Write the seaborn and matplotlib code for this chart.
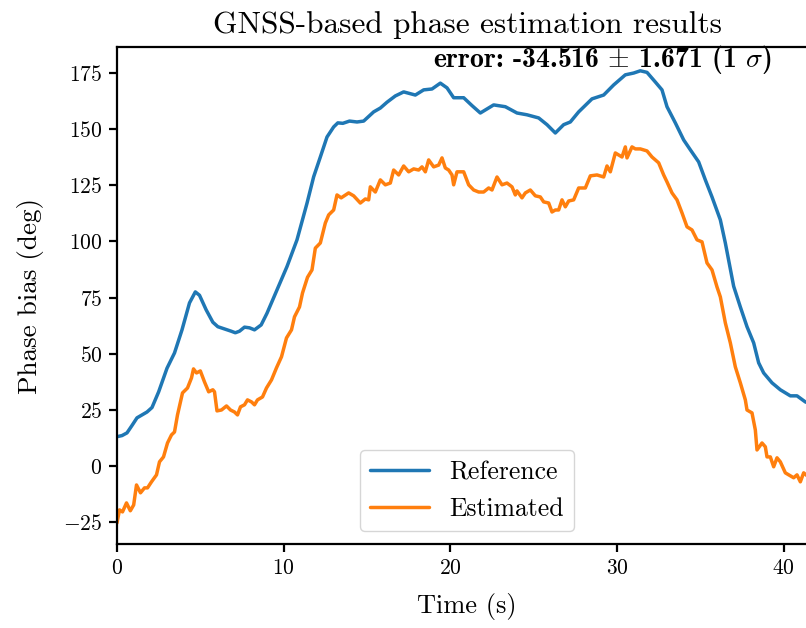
import numpy as np
import pandas as pd
import matplotlib
matplotlib.use("Agg")
import matplotlib.pyplot as plt
import seaborn as sns

# Reference phase bias (deg) over time (s)
ref_time = [0, 0.3, 0.6, 0.9, 1.2, 1.5, 1.8, 2.1, 2.5, 3.0,
            3.45, 3.9, 4.35, 4.7, 4.95, 5.35, 5.75, 6.05, 6.45, 6.85,
            7.1, 7.35, 7.65, 7.95, 8.25, 8.65, 9.0, 9.6, 10.2, 10.8,
            11.4, 11.8, 12.2, 12.6, 13.0, 13.25, 13.55, 13.95, 14.4, 14.8,
            15.4, 15.8, 16.2, 16.7, 17.2, 17.5, 17.9, 18.4, 18.9, 19.4,
            19.8, 20.2, 20.8, 21.3, 21.8, 22.6, 23.3, 24.0, 24.6, 25.3,
            25.8, 26.3, 26.8, 27.2, 27.7, 28.5, 29.2, 29.8, 30.5, 31.0,
            31.4, 31.8, 32.3, 32.7, 33.0, 33.5, 34.0, 34.4, 34.9, 35.3,
            35.7, 36.2, 36.5, 37.0, 37.4, 37.8, 38.2, 38.5, 38.8, 39.3,
            39.8, 40.4, 40.8, 41.3, 41.8]
ref_phase = [13, 13.5, 14.7, 18, 21.4, 22.7, 24, 26, 33, 43.5,
             50.3, 60.6, 72.6, 77.5, 76, 69.5, 64, 62, 61, 60,
             59.3, 60, 61.8, 61.5, 60.6, 62.8, 68, 78.4, 88.8, 100.7,
             117, 128.8, 137.6, 146.5, 151, 152.8, 152.6, 153.6, 153.2, 153.6,
             157.7, 159.4, 162, 164.8, 166.6, 166, 165.2, 167.5, 167.9, 170.5,
             168.4, 164, 164, 160.5, 157.2, 160.8, 160, 157.2, 156.4, 155,
             152, 148.3, 152, 153.2, 157.7, 163.5, 165.2, 169.7, 174.2, 175,
             176, 175.3, 171, 167.5, 160, 152.8, 145.2, 140.8, 135.4, 127.4,
             119.8, 109.6, 99.3, 80, 70.8, 62, 54.8, 45.9, 41.4, 37,
             33.9, 31.2, 31.2, 28.5, 27]

# Estimated phase bias (deg) over time (s)
est_time = [0, 0.15, 0.33, 0.57, 0.8, 1.0, 1.17, 1.41, 1.65, 1.83,
            2.07, 2.37, 2.55, 2.79, 3.03, 3.27, 3.45, 3.63, 3.93, 4.23,
            4.47, 4.59, 4.77, 5.0, 5.25, 5.5, 5.75, 5.85, 6.0, 6.27,
            6.57, 6.81, 7.05, 7.23, 7.41, 7.65, 7.83, 8.07, 8.25, 8.43,
            8.73, 8.97, 9.27, 9.57, 9.87, 10.17, 10.47, 10.65, 10.95, 11.13,
            11.43, 11.7, 11.9, 12.2, 12.5, 12.7, 13.0, 13.2, 13.45, 13.9,
            14.2, 14.6, 14.9, 15.1, 15.2, 15.5, 15.8, 16.1, 16.4, 16.6,
            16.9, 17.2, 17.5, 17.8, 18.1, 18.3, 18.5, 18.7, 19.0, 19.3,
            19.5, 19.7, 19.9, 20.1, 20.2, 20.4, 20.8, 21.1, 21.4, 21.7,
            22.0, 22.3, 22.5, 22.8, 23.1, 23.4, 23.7, 23.9, 24.0, 24.3,
            24.5, 24.8, 25.1, 25.4, 25.6, 25.9, 26.1, 26.3, 26.5, 26.7,
            26.9, 27.1, 27.4, 27.7, 28.1, 28.4, 28.8, 29.2, 29.4, 29.6,
            29.9, 30.1, 30.3, 30.5, 30.6, 30.9, 31.1, 31.4, 31.8, 32.1,
            32.5, 32.8, 33.0, 33.3, 33.6, 33.9, 34.2, 34.5, 34.8, 35.1,
            35.4, 35.7, 36.0, 36.2, 36.5, 36.8, 37.1, 37.4, 37.7, 37.8,
            38.1, 38.3, 38.4, 38.7, 38.9, 39.0, 39.2, 39.4, 39.6, 39.8,
            40.1, 40.3, 40.6, 40.8, 41.0, 41.2, 41.5, 41.8]
est_phase = [-25.4, -19.6, -20.5, -16.5, -20, -17.4, -8.5, -12, -9.8, -9.8,
             -7.1, -4, 1.8, 4, 10.2, 13.8, 15.1, 22.7, 32.5, 34.7,
             39.2, 43.2, 41.4, 42.3, 37.4, 33, 33.9, 33, 24.5, 24.9,
             26.7, 24.9, 24, 22.7, 26.3, 27.2, 29.4, 28.5, 27.2, 29.4,
             30.7, 34.7, 38.3, 43.7, 48.6, 57, 60.6, 66.4, 70.8, 77,
             84, 87.3, 97, 99.3, 108.2, 111.8, 114, 120.7, 119.4, 121.6,
             120.3, 117.1, 118.9, 118.5, 124.3, 122, 127.4, 125.2, 126, 131.8,
             129.6, 133.6, 131, 132.3, 131.8, 133.2, 131, 136.3, 133.2, 134,
             137.2, 132.7, 131.8, 129.6, 125.2, 131, 131, 125.2, 122.9, 122,
             122, 123.8, 122.9, 128.7, 125.2, 126, 124.3, 120.7, 122.5, 119.4,
             121.6, 122.9, 120.3, 119.8, 117.6, 117.1, 113.1, 114, 114, 118.5,
             115.4, 118, 118.5, 123.8, 123.8, 129.2, 129.6, 128.7, 133.6, 131,
             139.4, 138.5, 137.6, 142.1, 137.2, 142.1, 141.2, 141.2, 140.3, 137.6,
             135, 129.6, 126.5, 121.6, 118.5, 112.7, 106.5, 105.1, 100.7, 99.8,
             90.4, 87.3, 79.7, 75.3, 63.7, 54.8, 44.1, 37, 29.4, 24.9,
             23.6, 16, 7.1, 10.2, 8.5, 4, 4, -0.4, 3.6, 1.8,
             -3.1, -4, -5.3, -4, -7.1, -3.1, -5, -6]

series_names = ["Reference", "Estimated"]
series_colors = ["#1f77b4", "#ff7f0e"]
x_ticks = [0, 10, 20, 30, 40]
y_ticks = [-25, 0, 25, 50, 75, 100, 125, 150, 175]
error_label = r"error: -34.516 $\pm$ 1.671 (1 $\sigma$)"

df = pd.concat([
    pd.DataFrame({"Time": ref_time, "Phase": ref_phase, "Series": series_names[0]}),
    pd.DataFrame({"Time": est_time, "Phase": est_phase, "Series": series_names[1]}),
], ignore_index=True)

sns.set_theme(style="ticks", rc={
    "axes.edgecolor": "black", "xtick.color": "black", "ytick.color": "black",
    "text.color": "black", "axes.labelcolor": "black",
    "axes.linewidth": 1.6, "xtick.major.width": 1.6, "ytick.major.width": 1.6,
    "xtick.major.size": 5.5, "ytick.major.size": 5.5,
})
plt.rcParams["font.family"] = "serif"
plt.rcParams["font.serif"] = ["cmr10", "DejaVu Serif"]
plt.rcParams["mathtext.fontset"] = "cm"
plt.rcParams["axes.formatter.use_mathtext"] = True
plt.rcParams["axes.unicode_minus"] = True

fig = plt.figure(figsize=(8.06, 6.28), dpi=100)
ax = fig.add_axes([117 / 806, 1 - 544 / 628, 700 / 806, 497 / 628])

sns.lineplot(data=df, x="Time", y="Phase", hue="Series", palette=series_colors,
             hue_order=series_names, estimator=None, sort=False, lw=2.5, ax=ax)

ax.set_xlim(0, 42)
ax.set_ylim(-34.8, 186.6)
ax.set_xticks(x_ticks)
ax.set_yticks(y_ticks)
ax.tick_params(labelsize=15.5, pad=5)
ax.set_xlabel("Time (s)", fontsize=19, labelpad=11)
ax.set_ylabel("Phase bias (deg)", fontsize=19.5, labelpad=14)
ax.set_title("GNSS-based phase estimation results", fontsize=22.5, pad=10)

ax.text(0.693, 0.974, error_label, transform=ax.transAxes, ha="center", va="center",
        fontsize=20, family="cmb10")

sns.move_legend(ax, "lower center", title=None, fontsize=18.5, frameon=True,
                handlelength=2.3, borderaxespad=0.5)

fig.savefig("out.png", dpi=100)
